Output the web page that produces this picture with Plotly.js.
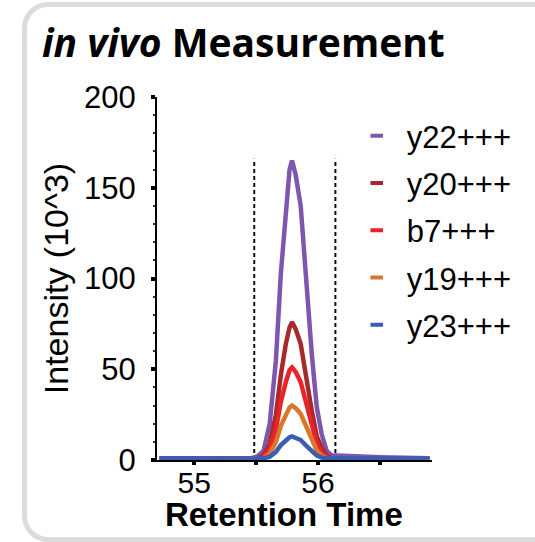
<!DOCTYPE html>
<html>
<head>
<meta charset="utf-8">
<script src="https://cdn.plot.ly/plotly-3.0.1.min.js"></script>
<style>
  html, body { margin: 0; padding: 0; width: 535px; height: 542px; overflow: hidden; background: #fff; }
  #card { position: absolute; left: 22px; top: 2px; width: 600px; height: 540px; box-sizing: border-box;
          border: 5px solid #dcdcdc; border-radius: 26px; z-index: 0; }
  #chart { position: absolute; left: 0; top: 0; width: 535px; height: 542px; z-index: 1; }
</style>
</head>
<body>
<div id="card"></div>
<div id="chart"></div>
<script>
// Retention time (min)
const retentionTime = [54.72, 54.9, 55.1, 55.3, 55.46, 55.51, 55.56, 55.61, 55.66, 55.7,
                       55.74, 55.77, 55.79, 55.82, 55.86, 55.9, 55.95, 55.99, 56.03, 56.07,
                       56.11, 56.16, 56.3, 56.5, 56.7, 56.9];
// Intensities (10^3)
const y22 = [1, 1, 1, 1, 1, 2, 5, 20, 55, 103, 140, 160, 165, 157, 140, 103, 58, 29, 14, 5, 2.5, 2.5, 2, 1.5, 1.2, 1];
const y20 = [0.5, 0.5, 0.5, 0.5, 0.5, 1, 2.3, 9, 25, 47, 64, 73, 76, 72, 64, 47, 27, 13, 6.5, 2.3, 1, 0.8, 0.6, 0.5, 0.5, 0.4];
const b7  = [0.4, 0.4, 0.4, 0.4, 0.4, 0.7, 1.6, 6.2, 17, 32, 43, 49.5, 51, 48.5, 43, 32, 18, 9, 4.3, 1.6, 0.8, 0.6, 0.5, 0.4, 0.4, 0.3];
const y19 = [0.3, 0.3, 0.3, 0.3, 0.3, 0.4, 0.9, 3.6, 10, 18.8, 25.5, 29, 30, 28.5, 25.5, 18.8, 10.5, 5.3, 2.5, 1, 0.5, 0.4, 0.3, 0.3, 0.3, 0.2];
const y23 = [0.8, 0.8, 0.9, 0.8, 0.7, 0.7, 0.9, 1.8, 4.5, 8.2, 11, 12.5, 13, 12.4, 11, 8.2, 4.6, 2.4, 1.3, 0.8, 0.9, 1, 1, 0.9, 0.8, 0.7];

const seriesNames = ['y22+++', 'y20+++', 'b7+++', 'y19+++', 'y23+++'];
const seriesValues = [y22, y20, b7, y19, y23];
const seriesColors = ['#7d56ad', '#a8292c', '#ec2229', '#d9772c', '#3b5cb3'];

// integration window boundaries (retention time) and their height
const windowBounds = [55.485, 56.14];
const windowTop = 166;

// axis ticks
const xTickVals = [55, 55.5, 56, 56.5];
const xTickText = ['55', '', '56', ''];
const yTickVals = [0, 50, 100, 150, 200];

const traces = [];
seriesValues.forEach((vals, i) => {
  traces.push({
    x: retentionTime, y: vals, type: 'scatter', mode: 'lines',
    line: { color: seriesColors[i], width: 4.5 },
    showlegend: false, hoverinfo: 'skip', cliponaxis: true
  });
});
// legend entries (short dash symbols)
seriesNames.forEach((name, i) => {
  traces.push({
    x: [null], y: [null], type: 'scatter', mode: 'markers', name: name,
    legendgroup: 'g' + i,
    marker: { symbol: 'line-ew', size: 9, color: seriesColors[i], line: { color: seriesColors[i], width: 4 } }
  });
});

const shapes = windowBounds.map(b => ({
  type: 'line', xref: 'x', yref: 'y', x0: b, x1: b, y0: 0, y1: windowTop,
  line: { color: '#111', width: 2, dash: '4px,3px' }, layer: 'below'
}));

const layout = {
  width: 535, height: 542,
  margin: { l: 157, r: 103, t: 97, b: 82 },
  paper_bgcolor: 'rgba(0,0,0,0)', plot_bgcolor: 'rgba(0,0,0,0)',
  title: {
    text: '<i>in vivo</i> Measurement',
    font: { family: 'Open Sans', size: 39, color: '#000', weight: 'bold' },
    xref: 'container', x: 42 / 535, xanchor: 'left',
    yref: 'container', y: 1 - 43 / 542, yanchor: 'middle'
  },
  xaxis: {
    range: [54.7, 56.92], showgrid: false, zeroline: false,
    showline: true, linecolor: '#000', linewidth: 2,
    tickvals: xTickVals, ticktext: xTickText,
    ticks: 'outside', ticklen: 3, tickwidth: 4, tickcolor: '#000',
    ticklabelstandoff: -8,
    tickfont: { family: 'Liberation Sans, Arial', size: 30, color: '#000' },
    title: { text: '' }
  },
  yaxis: {
    range: [0, 200], showgrid: false, zeroline: false,
    showline: true, linecolor: '#000', linewidth: 2,
    tickvals: yTickVals,
    ticks: 'outside', ticklen: 4, tickwidth: 4, tickcolor: '#000',
    ticklabelstandoff: 9,
    minor: { dtick: 10, ticks: 'outside', ticklen: 2, tickwidth: 2, tickcolor: '#333' },
    tickfont: { family: 'Liberation Sans, Arial', size: 31, color: '#000' },
    title: { text: 'Intensity (10^3)', standoff: 5,
             font: { family: 'Liberation Sans, Arial', size: 34, color: '#000' } }
  },
  annotations: [{
    text: '<b>Retention Time</b>', xref: 'paper', yref: 'paper',
    x: (284 - 157) / 275, y: -0.15, xanchor: 'center', yanchor: 'middle', showarrow: false,
    font: { family: 'Liberation Sans, Arial', size: 33, color: '#000' }
  }],
  legend: {
    x: 0.69, y: 0.967, xanchor: 'left', yanchor: 'top',
    itemwidth: 50, tracegroupgap: 4, bgcolor: 'rgba(0,0,0,0)',
    font: { family: 'Liberation Sans, Arial', size: 31, color: '#000' }
  },
  shapes: shapes
};

Plotly.newPlot('chart', traces, layout, { displayModeBar: false, staticPlot: true });
</script>
</body>
</html>
